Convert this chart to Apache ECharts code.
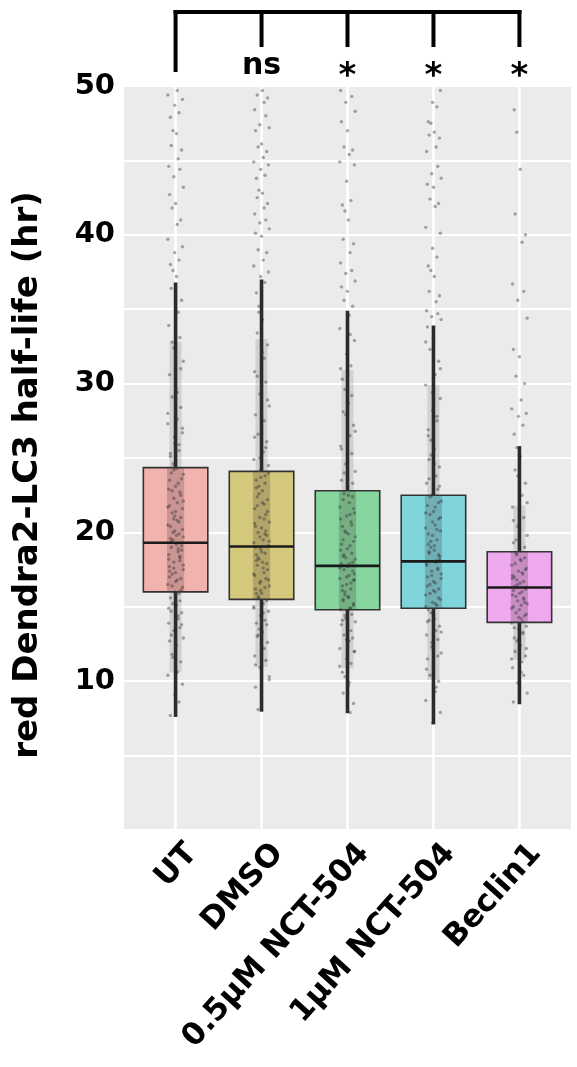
<!DOCTYPE html>
<html><head><meta charset="utf-8">
<script src="https://cdn.jsdelivr.net/npm/echarts@6/dist/echarts.min.js"></script>
<style>html,body{margin:0;padding:0;background:#fff}#c{width:577px;height:1067px}</style>
</head><body><div id="c"></div>
<script>
// ---------------- data ----------------
const categories = ['UT', 'DMSO', '0.5\u03BCM NCT-504', '1\u03BCM NCT-504', 'Beclin1'];
const whiskerLow  = [7.6, 7.95, 7.85, 7.1, 8.45];
const q1          = [16.0, 15.5, 14.8, 14.9, 13.95];
const median      = [19.3, 19.05, 17.75, 18.05, 16.3];
const q3          = [24.35, 24.1, 22.8, 22.5, 18.7];
const whiskerHigh = [36.8, 37.0, 34.9, 33.9, 25.8];
const significance = ['', 'ns', '*', '*', '*'];
const yTickLabels = [10, 20, 30, 40, 50];

const pointsUT = [7.7, 8.6, 9.1, 9.8, 10.4, 10.6, 11.3, 11.8, 12.1, 12.7, 12.9, 13.4, 13.6, 13.9, 14.2, 14.6, 14.7, 15.1, 15.2, 15.6, 15.9, 16.0, 16.3, 16.5, 16.8, 16.9, 17.2, 17.3, 17.7, 17.8, 18.0, 18.3, 18.5, 18.7, 18.8, 19.0, 19.2, 19.5, 19.6, 19.9, 20.1, 20.2, 20.5, 20.8, 21.0, 21.3, 21.4, 21.8, 22.1, 22.3, 22.7, 22.9, 23.3, 23.6, 24.0, 24.3, 24.6, 25.1, 25.5, 26.0, 26.7, 27.3, 27.6, 28.4, 29.1, 29.8, 30.6, 31.5, 32.4, 33.1, 33.9, 34.8, 35.6, 36.4,
  37.2, 37.6, 38.0, 38.3, 38.8, 39.2, 39.7, 40.7, 41.0, 41.8, 42.1, 42.7, 43.2, 43.9, 44.4, 44.6, 45.1, 45.7, 46.0, 46.8, 47.0, 47.9, 48.2, 48.7, 49.1, 49.4, 49.7];
const coreUT = [16.1, 16.4, 16.7, 17.0, 17.5, 17.6, 18.1, 18.2, 18.9, 19.1, 19.4, 19.8, 20.0, 20.4, 20.7, 21.1, 21.6, 21.7, 22.0, 22.5, 22.8, 23.1, 23.5, 23.9, 24.2, 15.4, 14.9, 14.4, 13.8, 13.1, 12.4, 11.6, 25.3, 25.9, 26.4, 27.0, 28.0, 29.4, 31.0, 32.8, 34.4, 17.4, 19.7, 20.9, 18.4];
const pointsDMSO = [8.1, 8.8, 9.6, 10.1, 10.9, 11.4, 11.7, 12.2, 12.6, 13.0, 13.3, 13.5, 13.9, 14.1, 14.4, 14.7, 14.9, 15.2, 15.4, 15.7, 15.9, 16.2, 16.4, 16.6, 16.9, 17.1, 17.3, 17.5, 17.8, 18.0, 18.2, 18.5, 18.6, 18.9, 19.1, 19.3, 19.5, 19.8, 20.0, 20.3, 20.4, 20.7, 21.0, 21.2, 21.6, 21.9, 22.2, 22.4, 22.8, 23.1, 23.5, 23.8, 24.2, 24.5, 24.9, 25.4, 26.1, 26.6, 27.2, 27.9, 28.5, 29.3, 30.1, 30.8, 31.7, 32.6, 33.4, 34.3, 35.2, 36.1, 36.8,
  37.2, 37.5, 37.9, 38.3, 38.8, 39.0, 39.9, 40.1, 40.4, 40.8, 41.0, 41.4, 41.8, 42.1, 42.5, 42.8, 43.0, 43.8, 44.0, 44.4, 44.7, 44.9, 45.2, 45.6, 45.9, 46.1, 47.0, 47.2, 47.4, 48.0, 48.4, 48.9, 49.2, 49.4, 49.7];
const coreDMSO = [15.6, 15.9, 16.3, 16.7, 16.8, 17.2, 17.6, 17.9, 18.3, 18.7, 19.0, 19.4, 19.7, 20.1, 20.6, 20.9, 21.4, 21.8, 22.0, 22.6, 23.0, 23.3, 23.7, 24.0, 15.0, 14.6, 13.8, 13.1, 12.4, 11.1, 10.3, 25.0, 25.7, 26.4, 27.5, 28.9, 30.5, 32.1, 34.8, 18.1, 19.9, 16.1];
const points05 = [7.9, 8.5, 9.2, 9.7, 10.3, 10.6, 11.2, 11.5, 12.0, 12.2, 12.7, 12.9, 13.1, 13.6, 13.8, 14.0, 14.2, 14.5, 14.8, 14.9, 15.2, 15.5, 15.6, 15.8, 16.1, 16.2, 16.5, 16.8, 16.9, 17.1, 17.4, 17.5, 17.7, 17.9, 18.2, 18.3, 18.6, 18.8, 19.1, 19.4, 19.5, 19.9, 20.1, 20.4, 20.7, 21.1, 21.3, 21.7, 22.0, 22.4, 22.6, 23.1, 23.5, 24.1, 24.6, 25.3, 25.8, 26.5, 27.2, 28.1, 28.7, 29.6, 30.3, 31.2, 32.0, 32.9, 33.7, 34.6,
  35.2, 35.6, 36.2, 36.5, 36.9, 37.4, 37.6, 38.1, 38.8, 39.4, 39.7, 41.0, 41.6, 42.0, 42.3, 43.6, 44.7, 44.9, 45.4, 45.7, 45.9, 47.0, 47.6, 48.3, 48.9, 49.3, 49.7];
const core05 = [14.9, 15.1, 15.4, 15.7, 16.0, 16.4, 16.6, 17.0, 17.2, 17.6, 17.9, 18.0, 18.5, 18.9, 19.2, 19.7, 20.0, 20.5, 20.9, 21.2, 21.6, 22.2, 22.5, 14.4, 14.1, 13.4, 12.8, 12.0, 11.0, 9.9, 23.3, 24.0, 24.8, 25.6, 26.8, 27.9, 29.2, 31.0, 33.3, 16.8, 18.4];
const points1 = [7.2, 7.9, 8.7, 9.3, 10.0, 10.4, 11.0, 11.5, 11.9, 12.3, 12.8, 13.1, 13.4, 13.7, 14.1, 14.2, 14.6, 14.8, 15.1, 15.3, 15.5, 15.8, 16.0, 16.2, 16.5, 16.7, 17.0, 17.2, 17.4, 17.6, 17.9, 18.1, 18.2, 18.6, 18.8, 19.0, 19.2, 19.5, 19.8, 20.1, 20.3, 20.5, 20.9, 21.2, 21.4, 21.8, 22.1, 22.5, 22.9, 23.3, 23.8, 24.4, 24.9, 25.6, 26.2, 26.9, 27.5, 28.2, 29.0, 29.9, 30.6, 31.5, 32.3, 33.1, 33.8,
  34.3, 34.5, 34.7, 34.9, 35.5, 35.9, 36.2, 37.2, 37.6, 37.9, 38.5, 39.1, 40.1, 40.5, 41.9, 42.1, 42.4, 43.2, 43.4, 43.8, 44.1, 44.6, 45.6, 45.9, 46.5, 46.7, 46.9, 47.5, 47.6, 48.6, 48.9, 49.7];
const core1 = [15.0, 15.2, 15.6, 15.9, 16.1, 16.4, 16.9, 17.1, 17.5, 17.8, 18.0, 18.4, 18.7, 19.1, 19.4, 19.9, 20.2, 20.7, 21.0, 21.3, 21.7, 22.0, 22.4, 14.5, 14.0, 13.3, 12.6, 11.7, 10.8, 9.6, 23.1, 23.6, 24.6, 25.2, 26.5, 27.8, 29.4, 31.0, 32.8, 16.6, 18.5];
const pointsBeclin = [8.6, 9.2, 9.9, 10.4, 10.9, 11.3, 11.7, 12.0, 12.4, 12.7, 12.9, 13.2, 13.5, 13.7, 13.9, 14.2, 14.4, 14.6, 14.8, 15.0, 15.2, 15.4, 15.6, 15.8, 16.0, 16.2, 16.4, 16.6, 16.8, 17.0, 17.2, 17.4, 17.6, 17.8, 18.1, 18.3, 18.6, 18.9, 19.3, 19.8, 20.4, 21.0, 21.7, 22.5, 23.3, 24.2, 25.1, 25.7,
  26.6, 27.2, 27.8, 28.0, 28.3, 28.9, 30.0, 30.5, 31.8, 32.3, 34.4, 35.6, 36.2, 36.7, 39.5, 40.0, 41.4, 44.4, 46.9, 48.4];
const coreBeclin = [14.0, 14.3, 14.5, 14.9, 15.1, 15.3, 15.7, 15.9, 16.1, 16.3, 16.5, 16.7, 17.1, 17.3, 17.5, 17.9, 18.2, 18.5, 13.6, 13.3, 12.8, 12.2, 11.5, 10.6, 19.0, 19.5, 20.1, 20.8, 22.0, 23.8, 15.5, 16.9];
const groupPoints = [pointsUT.concat(coreUT), pointsDMSO.concat(coreDMSO), points05.concat(core05), points1.concat(core1), pointsBeclin.concat(coreBeclin)];

// ---------------- style ----------------
const FONT = '"DejaVu Sans", "Liberation Sans", Arial, sans-serif';
const boxColors = ['#F2B3AF', '#D3C87B', '#86D59E', '#80D5DC', '#EFA9EE'];
const JITTER = [-0.06, 0.04, -0.01, 0.08, -0.09, 0.02, 0.06, -0.04, 0.0, -0.07, 0.09, -0.02, 0.05, -0.08, 0.03, 0.07, -0.05, 0.01, -0.03];
const HALF = 0.375;
const BAND = 0.1;
const LABEL_ANGLE = 48 * Math.PI / 180;

const boxData = categories.map((c, i) => [i, whiskerLow[i], q1[i], median[i], q3[i], whiskerHigh[i]]);
const scatterData = [];
groupPoints.forEach((arr, g) => arr.forEach((v, i) => {
  scatterData.push([g + JITTER[(i + g * 7) % JITTER.length], v]);
}));
const catData = categories.map((c, i) => [i]);
const sigData = categories.map((c, i) => [i, significance[i]]);

const chart = echarts.init(document.getElementById('c'), null, {renderer: 'canvas'});
chart.setOption({
  animation: false,
  backgroundColor: '#ffffff',
  grid: {left: 124, right: 6, top: 86, bottom: 237, show: true, backgroundColor: '#EBEBEB', borderWidth: 0, containLabel: false, outerBoundsMode: 'none'},
  xAxis: {
    type: 'value', min: -0.6, max: 4.6,
    axisLine: {show: false}, axisTick: {show: false}, splitLine: {show: false},
    axisLabel: {show: false}
  },
  yAxis: {
    type: 'value', min: 0, max: 50, interval: 5,
    name: 'red Dendra2-LC3 half-life (hr)', nameLocation: 'middle', nameGap: 79, nameRotate: 90,
    nameTextStyle: {color: '#000', fontWeight: 'bold', fontSize: 34, fontFamily: FONT, padding: [0, 34, 0, 0]},
    axisLine: {show: false}, axisTick: {show: false},
    splitLine: {show: true, lineStyle: {color: '#ffffff', width: 2}},
    axisLabel: {
      formatter: v => yTickLabels.indexOf(v) >= 0 ? String(v) : '',
      margin: 9, color: '#000', fontWeight: 'bold', fontSize: 29, fontFamily: FONT
    }
  },
  series: [
    { // vertical grid lines
      type: 'custom', z: 1, data: catData, silent: true,
      renderItem: (params, api) => {
        const a = api.coord([api.value(0), 0]);
        const b = api.coord([api.value(0), 50]);
        return {type: 'line', shape: {x1: a[0], y1: a[1], x2: b[0], y2: b[1]}, style: {stroke: '#ffffff', lineWidth: 2.5}};
      }
    },
    { // category labels (rotated, anchored at top-right corner)
      type: 'custom', z: 1, data: catData, silent: true, clip: false,
      renderItem: (params, api) => {
        const i = api.value(0);
        const p = api.coord([i, 0]);
        return {type: 'text', x: p[0] + 5, y: p[1] + 8, rotation: LABEL_ANGLE,
          style: {text: categories[i], align: 'right', verticalAlign: 'top',
            font: 'bold 31px ' + FONT, fill: '#000'}};
      }
    },
    { // box fills + dense jitter band
      type: 'custom', z: 2, data: boxData, silent: true,
      renderItem: (params, api) => {
        const i = api.value(0);
        const tl = api.coord([i - HALF, api.value(4)]);
        const br = api.coord([i + HALF, api.value(2)]);
        const bl = api.coord([i - BAND, api.value(4)]);
        const bb = api.coord([i + BAND, api.value(2)]);
        const wl = api.coord([i - 0.07, api.value(2)]);
        const wb = api.coord([i + 0.07, api.value(1) + 3]);
        const ul = api.coord([i - 0.07, api.value(5) - 4]);
        const ub = api.coord([i + 0.07, api.value(4)]);
        return {type: 'group', children: [
          {type: 'rect', shape: {x: tl[0], y: tl[1], width: br[0] - tl[0], height: br[1] - tl[1]}, style: {fill: boxColors[i]}},
          {type: 'rect', shape: {x: bl[0], y: bl[1], width: bb[0] - bl[0], height: bb[1] - bl[1]}, style: {fill: 'rgba(60,40,40,0.22)'}},
          {type: 'rect', shape: {x: wl[0], y: wl[1], width: wb[0] - wl[0], height: wb[1] - wl[1]}, style: {fill: 'rgba(60,60,60,0.14)'}},
          {type: 'rect', shape: {x: ul[0], y: ul[1], width: ub[0] - ul[0], height: ub[1] - ul[1]}, style: {fill: 'rgba(60,60,60,0.14)'}}
        ]};
      }
    },
    { // jittered points
      type: 'scatter', z: 3, data: scatterData, symbol: 'circle', symbolSize: 3.4, silent: true,
      itemStyle: {color: 'rgba(45,45,45,0.5)', borderWidth: 0}
    },
    { // whiskers, box outline, median
      type: 'custom', z: 4, data: boxData, silent: true,
      renderItem: (params, api) => {
        const i = api.value(0);
        const lo = api.coord([i, api.value(1)]);
        const b1 = api.coord([i, api.value(2)]);
        const md = api.coord([i, api.value(3)]);
        const b3 = api.coord([i, api.value(4)]);
        const hi = api.coord([i, api.value(5)]);
        const left = api.coord([i - HALF, 0])[0];
        const right = api.coord([i + HALF, 0])[0];
        return {type: 'group', children: [
          {type: 'line', shape: {x1: lo[0], y1: lo[1], x2: b1[0], y2: b1[1]}, style: {stroke: '#2b2b2b', lineWidth: 3.6}},
          {type: 'line', shape: {x1: b3[0], y1: b3[1], x2: hi[0], y2: hi[1]}, style: {stroke: '#2b2b2b', lineWidth: 3.6}},
          {type: 'rect', shape: {x: left, y: b3[1], width: right - left, height: b1[1] - b3[1]}, style: {fill: 'none', stroke: '#333333', lineWidth: 1.6}},
          {type: 'line', shape: {x1: left, y1: md[1], x2: right, y2: md[1]}, style: {stroke: '#1a1a1a', lineWidth: 2.6}}
        ]};
      }
    },
    { // significance bracket
      type: 'custom', z: 5, data: sigData, silent: true, clip: false,
      renderItem: (params, api) => {
        const i = api.value(0);
        const p = api.coord([i, 50]);
        const top = p[1];
        const barY = top - 74;
        const children = [];
        const endY = i === 0 ? top - 14 : top - 39;
        children.push({type: 'line', shape: {x1: p[0], y1: barY - 2, x2: p[0], y2: endY}, style: {stroke: '#000', lineWidth: 4}});
        if (i === 0) {
          const last = api.coord([categories.length - 1, 50]);
          children.push({type: 'line', shape: {x1: p[0] - 2, y1: barY, x2: last[0] + 2, y2: barY}, style: {stroke: '#000', lineWidth: 4}});
        }
        const txt = significance[i];
        if (txt) {
          children.push({type: 'text', style: {
            text: txt, x: p[0], y: txt === '*' ? top + 8 : top - 5,
            align: 'center', verticalAlign: 'bottom',
            font: 'bold ' + (txt === '*' ? 34 : 30) + 'px ' + FONT, fill: '#000'
          }});
        }
        return {type: 'group', children};
      }
    }
  ]
});
</script></body></html>
